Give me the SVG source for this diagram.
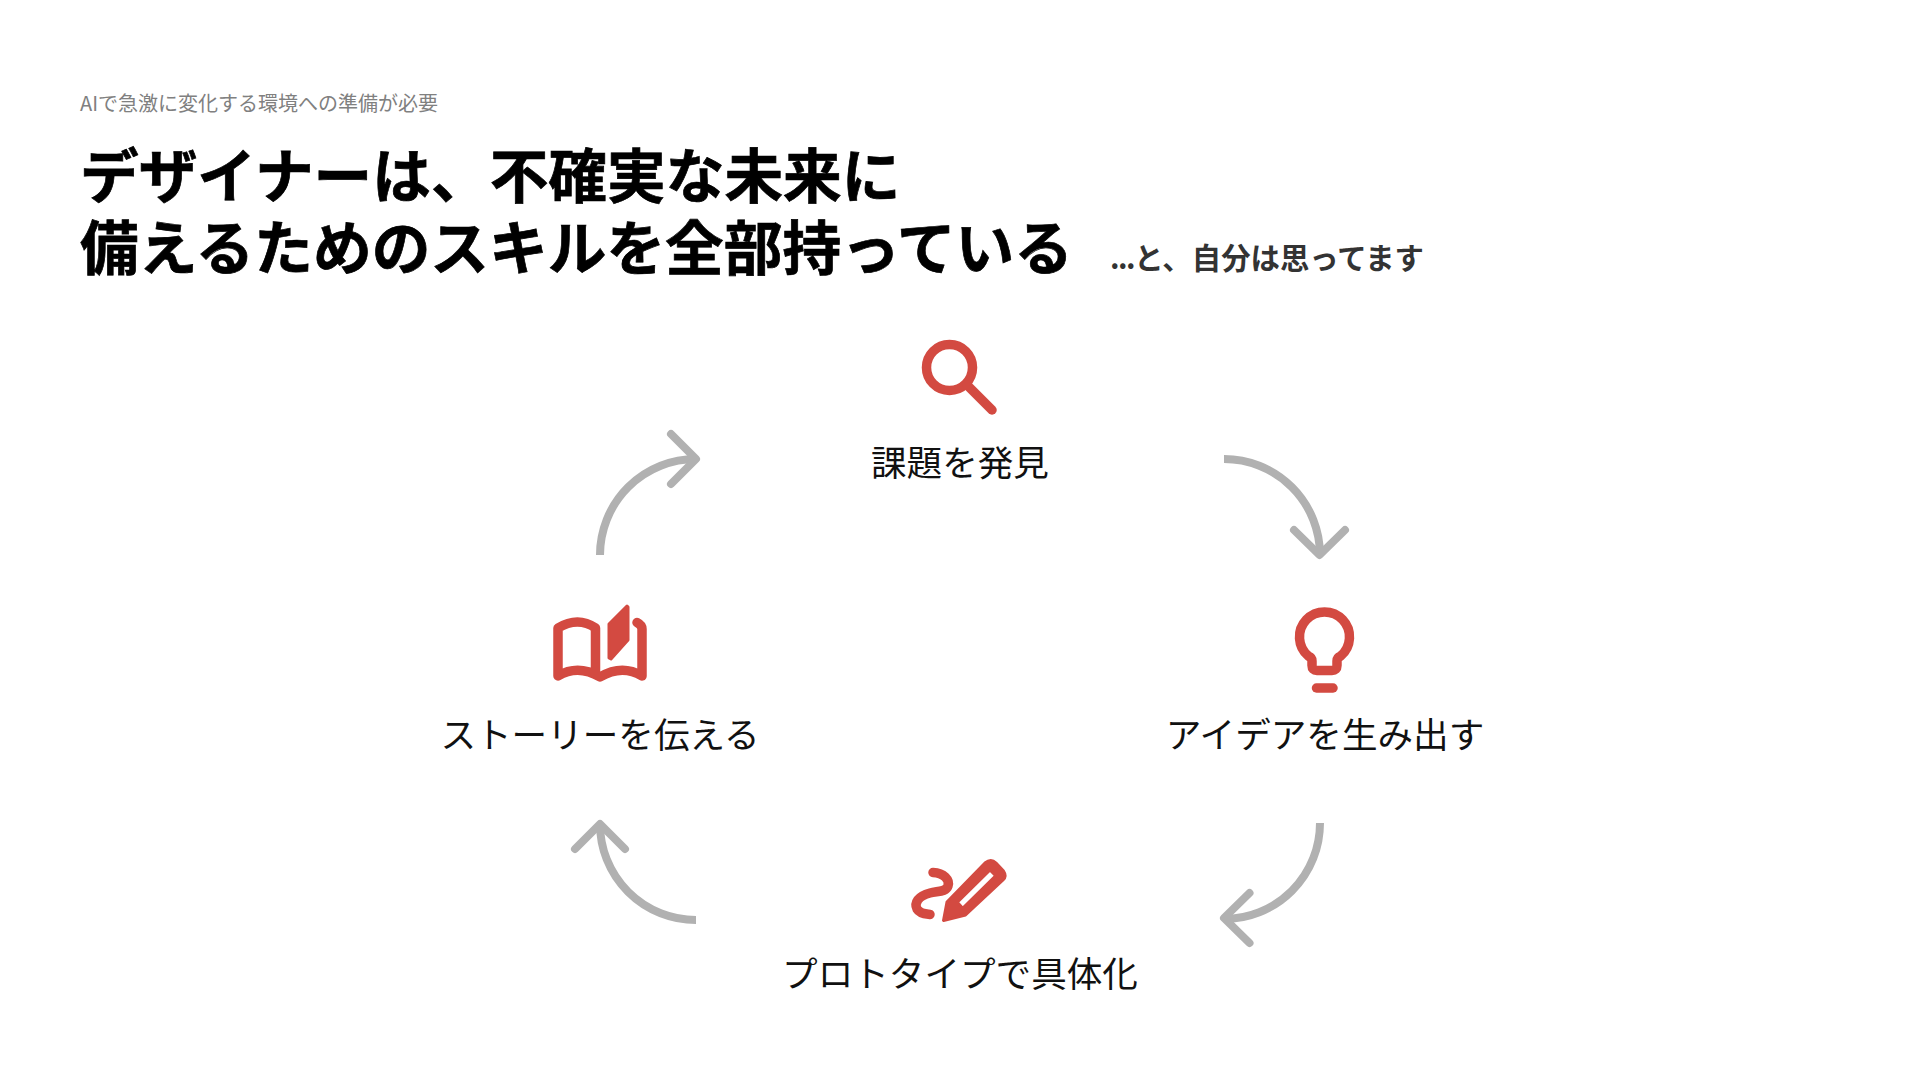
<svg xmlns="http://www.w3.org/2000/svg" width="1920" height="1080" viewBox="0 0 1920 1080">
<style>
text{font-family:"Noto Sans CJK JP","Noto Sans",sans-serif}
.t{font-size:58.7px;font-weight:700;fill:#000;stroke:#000;stroke-width:.7px}
.l{font-size:35.6px;fill:#111;text-anchor:middle}
.arc{fill:none;stroke:#b1b1b1;stroke-width:8;stroke-linecap:butt}
.chev{fill:none;stroke:#b1b1b1;stroke-width:8;stroke-linecap:round;stroke-linejoin:round}
.ico{fill:none;stroke:#d34a41;stroke-width:9.5;stroke-linecap:round;stroke-linejoin:round}
.fil{fill:#d34a41;stroke:#d34a41;stroke-width:3;stroke-linejoin:round}
</style>
<rect width="1920" height="1080" fill="#fff"/>
<g id="header">
<text x="80" y="111" font-size="20" fill="#808080">AIで急激に変化する環境への準備が必要</text>
<text class="t" x="80" y="198">デザイナーは、不確実な未来に</text>
<text class="t" x="80" y="270">備えるためのスキルを全部持っている</text>
<text x="1110" y="269" font-size="29.4" font-weight="700" fill="#333"><tspan letter-spacing="-1.5">...</tspan><tspan>と、自分は思ってます</tspan></text>
</g>
<g id="connectors">
<path class="arc" d="M1224 459A96 96 0 0 1 1320 555"/><path class="chev" d="M1294 530L1319.5 555L1345 530"/>
<path class="arc" d="M1320 823A96 96 0 0 1 1224 919"/><path class="chev" d="M1249.5 893L1224 918L1249.5 943"/>
<path class="arc" d="M696 920A96 96 0 0 1 600 824"/><path class="chev" d="M575 849L600 824L625 849"/>
<path class="arc" d="M600 555A96 96 0 0 1 696 459"/><path class="chev" d="M671 434L696 459L671 484"/>
</g>
<g id="node-discover">
<circle class="ico" cx="949.5" cy="367.5" r="23"/><path class="ico" d="M967 385L992 410"/>
<text class="l" x="960" y="476">課題を発見</text>
</g>
<g id="node-idea">
<path class="ico" d="M1317 670.5H1332Q1337 670.5 1337 665.5V661Q1337 657.5 1340.5 656.2A25 25 0 1 0 1308.5 656.2Q1312 657.5 1312 661V665.5Q1312 670.5 1317 670.5Z"/>
<path class="ico" d="M1316.5 688H1333"/>
<text class="l" x="1325" y="748">アイデアを生み出す</text>
</g>
<g id="node-prototype">
<path class="ico" d="M933 872.5C944 873 950 880 948 886C946 892 938 891 930 893C918 896 914 903 917 909C920 914 926 914 930 914.5"/>
<path class="fil" fill-rule="evenodd" d="M943.5 920.5L947 902L985 863Q991 858 996 863L1003.5 871Q1007 876 1003 880L965.5 915ZM957.3 902.3L962.7 908.3L995.7 875.7L990 870Z"/>
<text class="l" x="960" y="987">プロトタイプで具体化</text>
</g>
<g id="node-story">
<path class="ico" d="M595.5 672V628Q578 616 558 628V676Q578 664 600 677Q622 664 642 676V629Q642 625 637 622.5"/>
<path class="fil" d="M609 624L627 606L628 607V640L611 659L609 658Z"/>
<text class="l" x="600" y="748">ストーリーを伝える</text>
</g>
</svg>
